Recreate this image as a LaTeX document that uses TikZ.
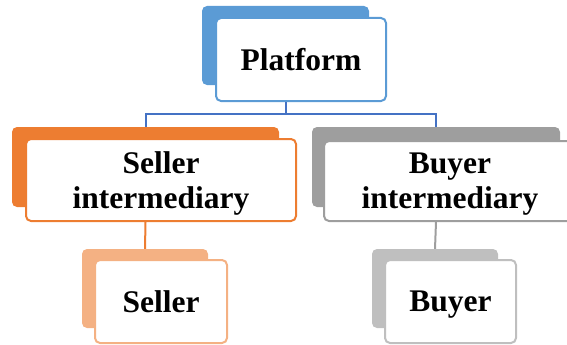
\documentclass[tikz,border=0pt]{standalone}
\usepackage{fontspec}
\setmainfont{Liberation Serif}
\definecolor{pblue}{HTML}{5B9BD5}
\definecolor{lblue}{HTML}{4472C4}
\definecolor{porange}{HTML}{ED7D31}
\definecolor{lorange}{HTML}{F4B183}
\definecolor{pgray}{HTML}{9E9E9E}
\definecolor{lgray}{HTML}{BFBFBF}
\tikzset{
  backbox/.style={rectangle, rounded corners=5pt, draw=none, inner sep=0pt},
  frontbox/.style={rectangle, rounded corners=5pt, line width=2pt, fill=white,
    inner sep=0pt, align=center, text depth=0pt,
    font=\bfseries\fontsize{31.5}{35}\selectfont},
  link/.style={line width=2pt}
}
\begin{document}
\begin{tikzpicture}[x=1pt,y=-1pt]
\useasboundingbox (0,0) rectangle (567,345);
% Platform
\node[backbox, fill=pblue, minimum width=167pt, minimum height=79pt] (pb) at (285.5,45.5) {};
\node[frontbox, draw=pblue, minimum width=170pt, minimum height=83pt] (pf) at (301,59.5) {Platform};
% Seller intermediary
\node[backbox, fill=porange, minimum width=267pt, minimum height=80pt] (sib) at (145.5,167) {};
\node[frontbox, draw=porange, minimum width=270pt, minimum height=82pt] (sif) at (161,180) {Seller\\intermediary};
% Buyer intermediary (runs past the right edge)
\node[backbox, fill=pgray, minimum width=248pt, minimum height=80pt] (bib) at (436,167) {};
\node[frontbox, draw=pgray, minimum width=252pt, minimum height=80pt] (bif) at (450,181) {Buyer\\intermediary};
% Seller
\node[backbox, fill=lorange, minimum width=126pt, minimum height=79pt] (sb) at (145,288.5) {};
\node[frontbox, draw=lorange, minimum width=132pt, minimum height=83pt] (sf) at (161,301.5) {Seller};
% Buyer
\node[backbox, fill=lgray, minimum width=126pt, minimum height=79pt] (bb) at (435,288.5) {};
\node[frontbox, draw=lgray, minimum width=131pt, minimum height=83pt] (bf) at (450.5,301.5) {Buyer};
% Connectors
\coordinate (split) at ([yshift=-12pt]pb |- pf.south);
\draw[link, lblue] (pb |- pf.south) -- (split) -| (sib.north);
\draw[link, lblue] (split) -| (bib.north);
\draw[link, porange] (sib |- sif.south) -- (sb.north);
\draw[link, pgray] (bib |- bif.south) -- (bb.north);
\end{tikzpicture}
\end{document}
